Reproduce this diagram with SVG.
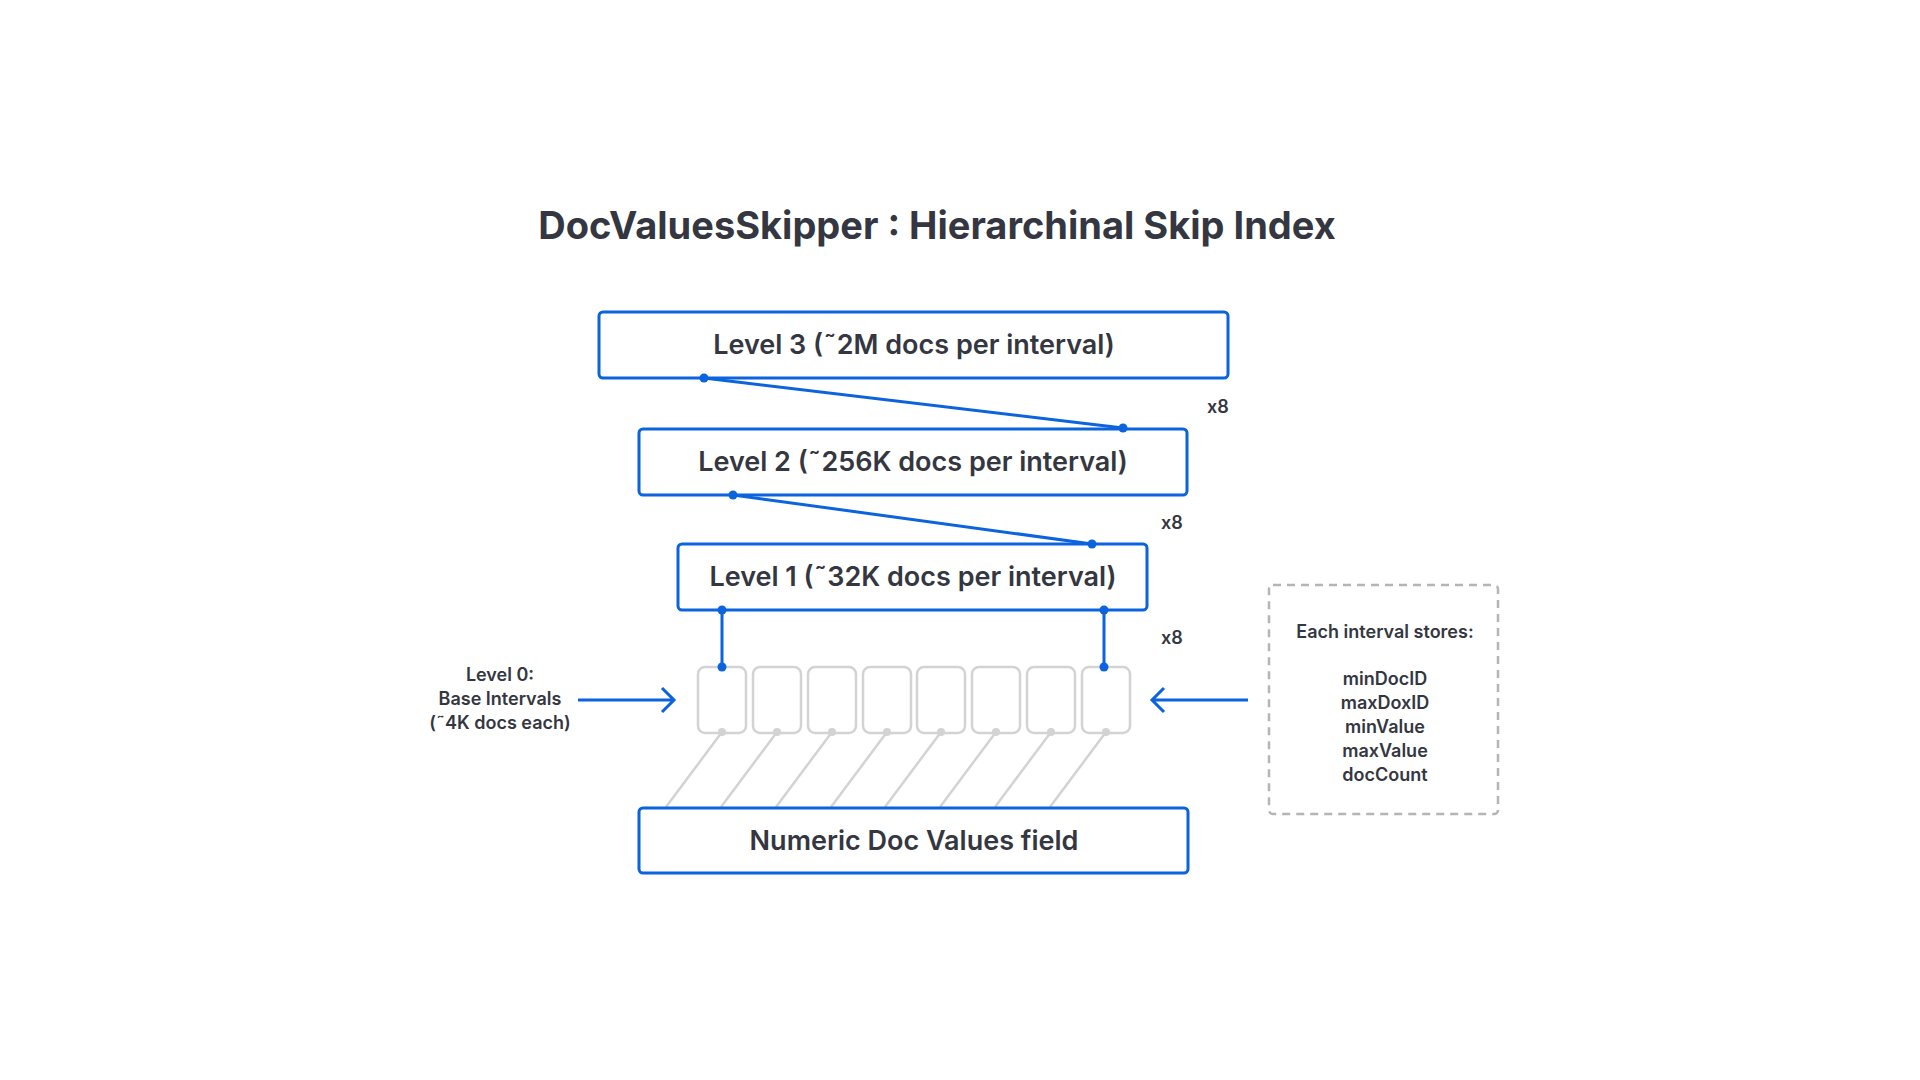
<svg xmlns="http://www.w3.org/2000/svg" width="1920" height="1080" viewBox="0 0 1920 1080">
<style>
.t{font-family:Inter,"Liberation Sans",sans-serif;fill:#343741;text-anchor:middle}
.box{fill:#fff;stroke:#0b64dd;stroke-width:3}
.cell{fill:#fff;stroke:#d3d3d3;stroke-width:2.5}
.lbl{font-size:27px;font-weight:600}
.sm{font-size:18px;font-weight:600}
.bl{stroke:#0b64dd;stroke-width:3;fill:none}
.gr{stroke:#d3d3d3;stroke-width:2.5}
</style>
<rect width="1920" height="1080" fill="#fff"/>
<text class="t" x="937" y="239" font-size="38" font-weight="700">DocValuesSkipper : Hierarchinal Skip Index</text>
<g id="connectors">
<g class="gr">
<line x1="722" y1="732" x2="666" y2="807"/><line x1="777" y1="732" x2="721" y2="807"/>
<line x1="832" y1="732" x2="776" y2="807"/><line x1="887" y1="732" x2="831" y2="807"/>
<line x1="941" y1="732" x2="885" y2="807"/><line x1="996" y1="732" x2="940" y2="807"/>
<line x1="1051" y1="732" x2="995" y2="807"/><line x1="1106" y1="732" x2="1050" y2="807"/>
</g>
<line class="bl" x1="704" y1="378" x2="1123" y2="428"/>
<line class="bl" x1="733" y1="495" x2="1092" y2="544"/>
<line class="bl" x1="722" y1="610" x2="722" y2="667"/>
<line class="bl" x1="1104" y1="610" x2="1104" y2="667"/>
<path class="bl" d="M578 700H674M662 688L674 700L662 712"/>
<path class="bl" d="M1248 700H1152M1164 688L1152 700L1164 712"/>
</g>
<g id="level3"><rect class="box" x="599" y="312" width="629" height="66" rx="4"/><text class="t lbl" x="914" y="354">Level 3 (˜2M docs per interval)</text></g>
<g id="level2"><rect class="box" x="639" y="429" width="548" height="66" rx="4"/><text class="t lbl" x="913" y="471">Level 2 (˜256K docs per interval)</text></g>
<g id="level1"><rect class="box" x="678" y="544" width="469" height="66" rx="4"/><text class="t lbl" x="913" y="586">Level 1 (˜32K docs per interval)</text></g>
<g id="numeric"><rect class="box" x="639" y="808" width="549" height="65" rx="4"/><text class="t lbl" x="914" y="850">Numeric Doc Values field</text></g>
<g id="level0">
<rect class="cell" x="698" y="667" width="48" height="66" rx="7"/><rect class="cell" x="753" y="667" width="48" height="66" rx="7"/>
<rect class="cell" x="808" y="667" width="48" height="66" rx="7"/><rect class="cell" x="863" y="667" width="48" height="66" rx="7"/>
<rect class="cell" x="917" y="667" width="48" height="66" rx="7"/><rect class="cell" x="972" y="667" width="48" height="66" rx="7"/>
<rect class="cell" x="1027" y="667" width="48" height="66" rx="7"/><rect class="cell" x="1082" y="667" width="48" height="66" rx="7"/>
<g fill="#d3d3d3"><circle cx="722" cy="732" r="4"/><circle cx="777" cy="732" r="4"/><circle cx="832" cy="732" r="4"/><circle cx="887" cy="732" r="4"/><circle cx="941" cy="732" r="4"/><circle cx="996" cy="732" r="4"/><circle cx="1051" cy="732" r="4"/><circle cx="1106" cy="732" r="4"/></g>
</g>
<g fill="#0b64dd"><circle cx="704" cy="378" r="4.5"/><circle cx="1123" cy="428" r="4.5"/><circle cx="733" cy="495" r="4.5"/><circle cx="1092" cy="544" r="4.5"/><circle cx="722" cy="610" r="4.5"/><circle cx="1104" cy="610" r="4.5"/><circle cx="722" cy="667" r="4.5"/><circle cx="1104" cy="667" r="4.5"/></g>
<g id="x8labels" class="t sm" font-weight="700"><text x="1218" y="413">x8</text><text x="1172" y="529">x8</text><text x="1172" y="644">x8</text></g>
<g id="level0label" class="t sm"><text x="500" y="681">Level 0:</text><text x="500" y="705">Base Intervals</text><text x="500" y="729">(˜4K docs each)</text></g>
<g id="stores"><rect x="1269" y="585" width="229" height="229" rx="4" fill="none" stroke="#b5b5b5" stroke-width="2.5" stroke-dasharray="8 6"/>
<g class="t sm"><text x="1385" y="638">Each interval stores:</text><text x="1385" y="685">minDocID</text><text x="1385" y="709">maxDoxID</text><text x="1385" y="733">minValue</text><text x="1385" y="757">maxValue</text><text x="1385" y="781">docCount</text></g></g>
</svg>
